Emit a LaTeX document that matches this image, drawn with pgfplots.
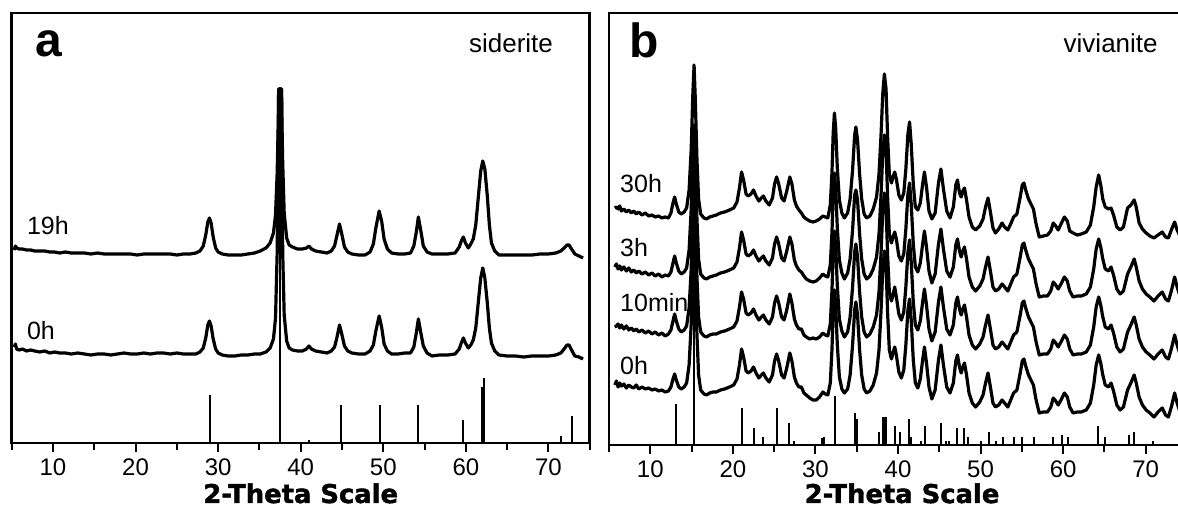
\documentclass[border=0pt]{standalone}
\usepackage{fontspec}
\setmainfont{Liberation Sans}
\newfontfamily\heavy{DejaVu Sans}[FakeBold=1.6]
\usepackage{pgfplots}
\usepackage{pgfplotstable}
\pgfplotsset{compat=1.18}

% panel a: siderite, heights in px above the x axis
\pgfplotstableread{
x h0 h19
5.3 96 193
5.45 99 197
5.6 94 195
5.9 93 194
6.3 94 194
6.8 92 193
7.3 93 193
7.8 92 192
8.4 91 192
9.0 92 192
9.6 90 191
10.2 91 191
10.8 90 190
11.5 90 191
12.2 89 190
13.0 90 190
13.8 89 190
14.6 88 189
15.4 89 190
16.2 89 189
17.0 88 189
17.8 89 189
18.6 90 189
19.4 89 189
20.2 89 188
21.0 90 189
21.8 89 189
22.6 90 189
23.4 90 189
24.2 89 189
25.0 90 188
25.8 89 189
26.6 89 189
27.3 89 190
27.8 91 192
28.2 95 197
28.5 105 208
28.75 118 221
28.95 122 225
29.15 117 220
29.4 104 206
29.7 94 195
30.0 90 191
30.5 88 189
31.2 87 188
32.0 87 188
32.8 88 188
33.6 88 189
34.4 89 190
35.1 89 192
35.8 91 195
36.3 95 200
36.7 104 210
36.95 125 228
37.15 190 270
37.28 300 320
37.33 354 354
37.68 354 354
37.73 300 320
37.82 190 280
38.0 128 230
38.3 102 205
38.6 95 198
39.0 93 196
39.6 92 194
40.2 92 194
40.7 94 195
41.0 97 197
41.3 94 194
41.8 92 192
42.5 91 191
43.2 90 190
43.7 92 192
44.1 96 197
44.4 106 208
44.7 118 219
45.0 108 208
45.3 97 196
45.7 92 191
46.2 90 189
47.0 89 188
47.8 89 188
48.4 92 191
48.8 98 199
49.1 112 215
49.5 127 232
49.8 116 222
50.1 99 204
50.5 92 194
51.0 89 190
51.8 89 189
52.6 90 189
53.3 90 190
53.7 96 197
54.0 110 211
54.25 124 226
54.55 110 212
54.85 97 197
55.3 90 191
55.9 87 189
56.8 88 189
57.8 88 189
58.7 89 190
59.2 94 196
59.45 100 202
59.7 105 206
59.95 100 200
60.3 95 195
60.6 98 199
60.9 103 204
61.2 115 218
61.5 140 245
61.8 165 272
62.05 175 282
62.3 165 274
62.6 140 247
62.85 115 218
63.1 100 200
63.5 92 192
64.0 88 188
65.0 87 188
66.0 87 188
67.0 86 188
68.0 87 188
69.0 87 189
70.0 87 189
70.9 88 190
71.5 90 192
71.9 94 195
72.25 98 198
72.5 98 198
72.8 93 194
73.2 87 189
73.7 86 187
74.2 84 185
}\siderite

\pgfplotstableread{
x h
29.0 48
37.46 354
41.0 3
44.9 38
49.6 38
54.2 38
59.7 23
61.95 56
62.25 65
71.5 7
72.8 27
}\siderref

% panel b: vivianite, heights in px above the x axis
\pgfplotstableread{
x h0 h10 h3 h30
5.7 60 118 178 237
5.9 64 119 181 238
6.1 58 121 176 236
6.3 62 117 179 239
6.5 59 120 175 234
6.8 61 116 178 236
7.1 57 119 174 233
7.4 60 115 177 235
7.7 58 117 173 232
8.0 57 114 175 234
8.3 60 116 172 231
8.6 56 113 174 233
9.0 58 115 171 230
9.4 56 112 173 232
9.8 57 114 170 229
10.2 55 111 172 230
10.6 56 113 169 228
11.0 54 110 171 229
11.4 55 112 168 227
11.8 53 109 170 228
12.2 54 111 169 227
12.5 58 115 173 232
12.75 66 124 182 242
12.95 71 131 189 248
13.15 65 124 182 241
13.45 58 116 174 233
13.75 56 113 171 231
14.1 58 115 173 233
14.4 62 119 177 237
14.7 80 137 195 255
14.95 120 175 235 295
15.15 175 232 290 350
15.3 203 262 320 380
15.45 170 228 286 346
15.65 110 168 226 286
15.85 70 128 186 246
16.1 55 113 171 231
16.5 51 109 167 227
16.8 50 108 166 226
17.2 52 110 168 228
17.6 53 111 169 229
18.0 53 111 170 230
18.5 55 113 172 232
19.0 56 114 173 233
19.6 58 116 175 235
20.1 60 118 177 237
20.5 66 124 183 243
20.8 80 138 197 257
21.05 96 153 213 273
21.3 88 146 205 265
21.6 74 132 191 251
21.85 72 130 189 249
22.2 74 132 191 251
22.5 78 136 195 255
22.8 72 130 189 249
23.15 67 125 184 244
23.45 70 128 187 247
23.7 72 130 189 249
24.0 67 125 184 244
24.4 63 121 180 240
24.8 70 128 187 247
25.05 84 142 201 261
25.3 91 149 208 268
25.55 84 142 201 261
25.9 70 128 187 247
26.2 67 125 184 244
26.5 76 134 193 253
26.9 92 151 208 268
27.15 84 142 201 261
27.45 68 126 185 245
27.7 62 120 179 239
28.0 58 116 175 235
28.3 58 116 173 232
28.6 52 110 169 228
28.9 50 108 166 226
29.3 47 106 164 224
29.7 45 107 163 223
30.1 45 106 164 224
30.5 48 108 167 226
30.9 53 112 171 229
31.2 51 110 169 228
31.5 50 109 168 227
31.8 62 121 180 240
32.0 95 154 212 272
32.15 135 194 252 312
32.3 155 214 272 332
32.45 140 199 257 317
32.65 100 159 217 277
32.9 68 126 185 245
33.2 56 114 172 232
33.5 52 108 166 227
33.9 56 113 172 232
34.2 70 128 186 246
34.5 100 158 215 275
34.75 135 193 250 310
34.9 143 201 255 318
35.1 130 188 245 305
35.35 95 153 211 271
35.6 70 128 186 246
35.9 56 113 171 231
36.2 52 108 166 227
36.6 54 111 169 229
37.0 60 118 176 236
37.4 72 130 188 248
37.7 95 153 211 271
37.95 135 193 251 311
38.15 175 233 291 351
38.35 194 252 310 371
38.55 180 238 296 356
38.75 130 188 246 306
38.95 95 153 211 271
39.2 86 144 202 262
39.4 92 150 208 268
39.6 98 158 213 273
39.8 90 148 206 266
40.1 73 131 189 250
40.4 67 125 184 245
40.7 75 133 191 252
40.95 100 158 216 276
41.2 135 193 251 311
41.4 146 205 262 323
41.6 125 183 241 301
41.85 85 143 201 261
42.1 62 120 178 238
42.4 57 115 173 235
42.7 66 124 182 242
43.0 86 144 202 262
43.2 98 156 214 273
43.45 82 140 198 258
43.75 58 116 174 234
44.1 46 104 162 226
44.5 55 113 171 232
44.9 85 143 201 262
45.2 100 158 216 276
45.5 80 138 196 256
45.9 58 116 174 234
46.3 52 110 168 227
46.7 62 120 178 238
47.0 84 142 200 260
47.2 90 148 206 265
47.45 78 136 194 252
47.65 72 130 188 248
47.85 78 136 194 254
48.05 82 140 198 257
48.3 70 128 186 245
48.6 52 110 168 228
49.0 42 100 158 218
49.4 38 96 154 215
49.9 43 101 159 219
50.3 50 108 166 226
50.6 62 120 178 238
50.9 72 130 188 247
51.15 60 118 176 235
51.5 42 100 158 217
51.8 38 96 154 212
52.2 40 98 156 216
52.6 45 103 161 222
52.9 42 100 158 218
53.3 38 96 154 215
53.7 46 104 162 222
54.0 52 110 168 228
54.4 55 113 171 231
54.8 72 130 188 248
55.05 84 142 200 260
55.25 86 144 202 262
55.5 78 136 194 254
55.8 70 128 186 246
56.1 65 123 181 241
56.4 60 118 176 236
56.7 46 104 162 222
57.1 32 90 148 208
57.6 33 91 149 209
58.1 33 91 149 210
58.5 38 96 154 214
58.8 47 105 163 222
59.1 44 102 160 219
59.4 40 98 156 215
59.8 46 104 162 222
60.15 52 110 168 228
60.5 48 106 164 224
60.8 38 96 154 214
61.2 32 90 148 212
61.7 33 91 149 210
62.2 33 91 149 211
62.8 35 93 151 213
63.3 42 100 158 220
63.7 60 118 176 238
64.0 80 138 196 258
64.3 90 148 206 270
64.55 82 140 198 260
64.8 70 128 186 246
65.1 60 118 176 238
65.5 58 116 174 236
65.8 62 120 178 237
66.1 54 112 170 230
66.5 40 98 156 218
66.9 35 93 151 215
67.3 38 96 154 218
67.8 55 113 171 237
68.2 62 120 178 240
68.6 70 128 186 245
68.85 62 120 178 238
69.2 48 106 164 222
69.6 40 98 156 216
70.05 35 93 151 212
70.5 32 90 148 209
71.0 28 86 144 207
71.5 33 91 149 210
72.0 37 95 153 213
72.4 30 88 146 208
72.75 28 86 144 207
73.1 38 96 154 215
73.5 52 110 168 223
73.8 42 100 158 215
74.2 32 90 148 208
74.6 28 86 144 205
}\vivianite

\pgfplotstableread{
x h
13.06 41
15.3 300
21.09 37
22.6 17
23.7 8
25.3 37
26.85 22
27.4 4
30.85 7
31.05 8
32.35 49
34.77 32
35.06 26
37.65 13
38.2 28
38.3 28
38.4 28
38.5 28
39.58 19
40.27 13
41.39 26
41.6 8
42.8 4
43.3 19
45.23 22
45.85 4
46.2 4
47.16 17
48.05 17
48.45 8
50.07 4
51.0 13
51.9 4
52.7 8
54.1 8
55.04 8
56.5 8
58.8 8
59.88 10
60.56 8
64.19 19
65.1 8
67.94 10
68.63 13
70.85 4
}\vivref

\pgfplotsset{
  xrdpanel/.style={
    scale only axis, anchor=south west, width=289pt,
    xmin=5, xmax=75, ymin=0,
    xtick={10,20,...,70}, minor xtick={5,15,...,75},
    ytick=\empty, xtick pos=left,
    tick align=outside, major tick length=4.5pt, minor tick length=3.5pt,
    axis line style={line width=1.3pt},
    major tick style={line width=1pt, black},
    minor tick style={line width=1pt, black},
    tick label style={font=\fontsize{12}{14}\selectfont,
      /pgf/number format/assume math mode=true},
    clip=false,
    xlabel={2-Theta Scale},
    xlabel style={font=\heavy\bfseries\fontsize{12.9}{14}\selectfont,
      at={(axis description cs:0.5,0)}, anchor=base},
  },
  trace/.style={black, line width=1.6pt, line join=round, no markers},
  sticks/.style={black, ycomb, line width=1pt, no markers},
}

\begin{document}
\begin{tikzpicture}
\useasboundingbox (0,0) rectangle (589pt,254pt);

\begin{axis}[xrdpanel, at={(5.85pt,32.5pt)}, height=215pt, ymax=430,
  xlabel style={yshift=-30pt}]
\addplot[sticks] table[x=x, y=h] {\siderref};
\addplot[trace] table[x=x, y=h0] {\siderite};
\addplot[trace] table[x=x, y=h19] {\siderite};
\node[anchor=base west, font=\bfseries\fontsize{24}{24}\selectfont] at (axis cs:7.0,386) {a};
\node[anchor=base east, font=\fontsize{13}{14}\selectfont] at (axis cs:71.4,390) {siderite};
\node[anchor=base west, font=\fontsize{12.5}{14}\selectfont] at (axis cs:6.0,208) {19h};
\node[anchor=base west, font=\fontsize{12.5}{14}\selectfont] at (axis cs:6.0,103) {0h};
\end{axis}

\begin{axis}[xrdpanel, at={(304.5pt,31.5pt)}, height=216pt, ymax=432,
  xlabel style={yshift=-29pt, xshift=2pt}]
\addplot[sticks] table[x=x, y=h] {\vivref};
\addplot[trace] table[x=x, y=h0] {\vivianite};
\addplot[trace] table[x=x, y=h10] {\vivianite};
\addplot[trace] table[x=x, y=h3] {\vivianite};
\addplot[trace] table[x=x, y=h30] {\vivianite};
\node[anchor=base west, font=\bfseries\fontsize{24}{24}\selectfont] at (axis cs:6.6,387) {b};
\node[anchor=base east, font=\fontsize{13}{14}\selectfont] at (axis cs:72.3,392) {vivianite};
\node[anchor=base west, font=\fontsize{12.5}{14}\selectfont] at (axis cs:5.5,252) {30h};
\node[anchor=base west, font=\fontsize{12.5}{14}\selectfont] at (axis cs:5.5,188) {3h};
\node[anchor=base west, font=\fontsize{12.5}{14}\selectfont] at (axis cs:5.5,133) {10min};
\node[anchor=base west, font=\fontsize{12.5}{14}\selectfont] at (axis cs:5.5,70) {0h};
\end{axis}
\end{tikzpicture}
\end{document}
